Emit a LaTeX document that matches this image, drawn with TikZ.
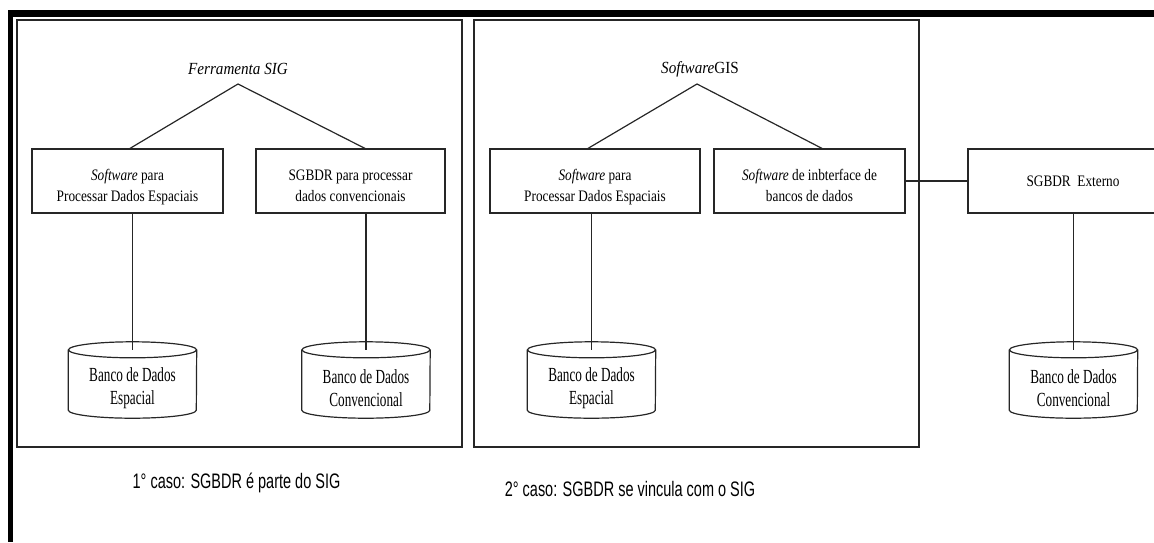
\documentclass[tikz,border=0pt]{standalone}
\usepackage{fontspec}
\setmainfont{Liberation Serif}
\newfontfamily\boxfont[FakeStretch=0.83]{Liberation Serif}
\newfontfamily\titlefont[FakeStretch=0.89]{Liberation Serif}
\newfontfamily\cylfont[FakeStretch=0.66]{Liberation Serif}
\newfontfamily\capfont[FakeStretch=0.69]{Liberation Sans}
\newcommand\boxtxt[1]{\raisebox{-10pt}[0pt][0pt]{\begin{tabular}{@{}c@{}}#1\end{tabular}}}
\tikzset{
  ln/.style={draw=black!85, line width=1.2pt},
  panel/.style={ln, rectangle, inner sep=0pt},
  sbox/.style={ln, rectangle, inner sep=0pt, minimum height=64,
    font={\boxfont\fontsize{16pt}{20.7pt}\selectfont}},
  ttl/.style={inner sep=0pt, font={\titlefont\fontsize{17pt}{20pt}\selectfont}},
  cyl/.style={inner sep=0pt, minimum width=128, minimum height=60, align=center,
    font={\cylfont\fontsize{20pt}{23pt}\selectfont}},
  capt/.style={inner sep=0pt, font={\capfont\fontsize{21pt}{24pt}\selectfont}}
}
\newcommand\cylout[1]{%
  \draw[ln] ([yshift=8pt]#1.north west) -- ([yshift=8pt]#1.south west)
    arc[start angle=180, end angle=360, x radius=64pt, y radius=8pt]
    -- ([yshift=8pt]#1.north east);
  \draw[ln] ([yshift=8pt]#1.north) ellipse[x radius=64pt, y radius=8pt];}
\begin{document}
\begin{tikzpicture}[x=1pt, y=-1pt]
\useasboundingbox (0,0) rectangle (1154,542);
% outer thick border
\fill[black] (8,10) rectangle (1154,17);
\fill[black] (8,10) rectangle (13,542);
% panels
\node[panel, minimum width=445, minimum height=427] (P1) at (239.5,233.5) {};
\node[panel, minimum width=445, minimum height=427] (P2) at (696.5,233.5) {};
% case 1
\node[ttl] (T1) at (238,69) {\textit{Ferramenta SIG}};
\coordinate (X1) at (238,84);
\node[sbox, minimum width=191] (A1) at (127.5,181) {\boxtxt{\textit{Software} para\\Processar Dados Espaciais}};
\node[sbox, minimum width=189] (B1) at (350.5,181) {\boxtxt{SGBDR para processar\\dados convencionais}};
\node[cyl] (D1) at (132.5,388) {Banco de Dados\\Espacial};
\node[cyl] (D2) at (366,388) {Banco de Dados\\Convencional};
% case 2
\node[ttl] (T2) at (700,69) {\textit{Software}GIS};
\coordinate (X2) at (697,84);
\node[sbox, minimum width=210] (A2) at (595,181) {\boxtxt{\textit{Software} para\\Processar Dados Espaciais}};
\node[sbox, minimum width=191] (B2) at (809.5,181) {\boxtxt{\textit{Software} de inbterface de\\bancos de dados}};
\node[sbox, minimum width=210] (C) at (1073,181) {SGBDR\ \ Externo};
\node[cyl] (D3) at (591.5,388) {Banco de Dados\\Espacial};
\node[cyl] (D4) at (1073.5,388) {Banco de Dados\\Convencional};
% cylinders
\cylout{D1}\cylout{D2}\cylout{D3}\cylout{D4}
% connectors
\draw[ln] ([xshift=2.5pt]A1.north) -- (X1) -- ([xshift=14.5pt]B1.north);
\draw[ln] ([xshift=-7pt]A2.north) -- (X2) -- ([xshift=12.5pt]B2.north);
\draw[ln] (A1.south -| D1.north) -- ([yshift=8pt]D1.north);
\draw[ln] (B1.south -| D2.north) -- ([yshift=8pt]D2.north);
\draw[ln] (A2.south -| D3.north) -- ([yshift=8pt]D3.north);
\draw[ln] (C.south -| D4.north) -- ([yshift=8pt]D4.north);
\draw[ln] (B2.east) -- (C.west);
% captions
\node[capt] (K1) at (236.5,483) {1° caso: SGBDR é parte do SIG};
\node[capt] (K2) at (630,489) {2° caso: SGBDR se vincula com o SIG};
\end{tikzpicture}
\end{document}
